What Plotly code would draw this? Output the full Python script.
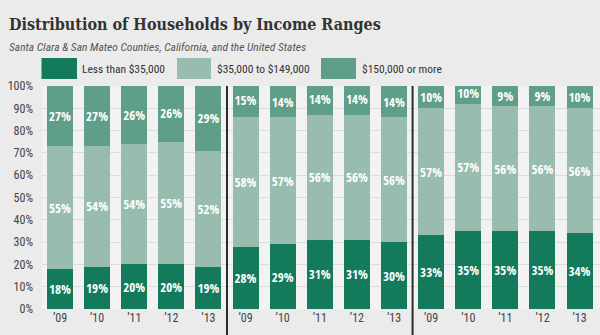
import plotly.graph_objects as go

# Household income shares (%) by region and year
regions = ["Santa Clara & San Mateo Counties", "California", "United States"]
years = ["’09", "’10", "’11", "’12", "’13"]
less_35k = [[18, 19, 20, 20, 19], [28, 29, 31, 31, 30], [33, 35, 35, 35, 34]]
mid_35_149k = [[55, 54, 54, 55, 52], [58, 57, 56, 56, 56], [57, 57, 56, 56, 56]]
over_150k = [[27, 27, 26, 26, 29], [15, 14, 14, 14, 14], [10, 10, 9, 9, 10]]
y_ticks = list(range(0, 101, 10))

series = [
    ("Less than $35,000", less_35k, "#137b5b"),
    ("$35,000 to $149,000", mid_35_149k, "#98bdaf"),
    ("$150,000 or more", over_150k, "#5f9e88"),
]

W, H = 600, 335
ML, MR, MT, MB = 42, 0, 86, 26
PW, PH = W - ML - MR, H - MT - MB
SANS = "Roboto Condensed"


def px_x(px):
    return (px - ML) / PW


def px_y(py):
    return (H - MB - py) / PH


n_years = len(years)
xpos = [r * n_years + i for r in range(len(regions)) for i in range(n_years)]
xlabels = [y for _ in regions for y in years]

fig = go.Figure()
for name, vals, color in series:
    flat = [v for row in vals for v in row]
    fig.add_trace(go.Bar(
        x=xpos, y=flat, name=name, marker=dict(color=color, line=dict(width=0)),
        width=0.7, text=[f"{v}%" for v in flat], textposition="inside",
        insidetextanchor="middle", textangle=0, constraintext="none",
        textfont=dict(family="Open Sans Condensed", size=13, color="white", weight="bold"),
        showlegend=False,
    ))

x_lo, x_hi = -0.485, 14.55

# Separators between the regional groups
shapes = []
for r in range(1, len(regions)):
    xs = r * n_years - 0.5
    xp = (xs - x_lo) / (x_hi - x_lo)
    shapes.append(dict(type="line", xref="paper", yref="paper", x0=xp, x1=xp,
                       y0=px_y(H), y1=1.0, line=dict(color="#2b2b2b", width=2)))

# Legend swatches and labels
annotations = []
legend_items = [(41.5, 77, 80), (177, 211, 215), (321, 356, 360)]
for (x0, x1, tx), (name, _, color) in zip(legend_items, series):
    shapes.append(dict(type="rect", xref="paper", yref="paper",
                       x0=px_x(x0), x1=px_x(x1), y0=px_y(79), y1=px_y(58),
                       fillcolor=color, line=dict(width=0)))
    annotations.append(dict(text=name, xref="paper", yref="paper", x=px_x(tx),
                            y=px_y(69), xanchor="left", yanchor="middle", showarrow=False,
                            font=dict(family=SANS, size=11.5, color="#333")))

annotations.append(dict(text="<b>Distribution of Households by Income Ranges</b>",
                        xref="paper", yref="paper", x=px_x(7), y=px_y(24),
                        xanchor="left", yanchor="middle", showarrow=False,
                        font=dict(family="DejaVu Serif Condensed", size=16, color="#333")))
annotations.append(dict(text="<i>Santa Clara & San Mateo Counties, California, and the United States</i>",
                        xref="paper", yref="paper", x=px_x(7), y=px_y(47),
                        xanchor="left", yanchor="middle", showarrow=False,
                        font=dict(family=SANS, size=11.5, color="#555")))

fig.update_layout(
    width=W, height=H, barmode="stack", bargap=0.3,
    margin=dict(l=ML, r=MR, t=MT, b=MB, pad=0),
    paper_bgcolor="#ebebeb", plot_bgcolor="#f2f2f2",
    shapes=shapes, annotations=annotations,
    xaxis=dict(range=[x_lo, x_hi], tickvals=xpos, ticktext=xlabels, showgrid=False,
               zeroline=False, showline=False, ticks="",
               tickfont=dict(family=SANS, size=12, color="#444")),
    yaxis=dict(range=[0, 100], tickvals=y_ticks, ticktext=[f"{v}%" for v in y_ticks],
               showgrid=True, gridcolor="#dcdcdc", gridwidth=1, zeroline=False,
               showline=False, ticks="", ticklabelstandoff=8,
               tickfont=dict(family=SANS, size=12, color="#444")),
)

fig.write_html("out.html")
